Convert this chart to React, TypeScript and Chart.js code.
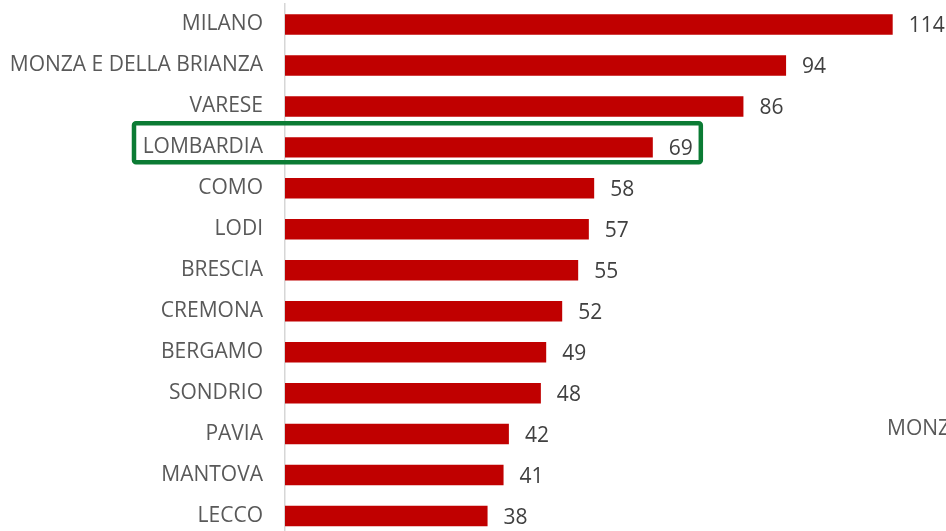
import React, { useEffect, useRef } from "react";
import { Chart, registerables } from "chart.js";

Chart.register(...registerables);

const categories = [
  "MILANO",
  "MONZA E DELLA BRIANZA",
  "VARESE",
  "LOMBARDIA",
  "COMO",
  "LODI",
  "BRESCIA",
  "CREMONA",
  "BERGAMO",
  "SONDRIO",
  "PAVIA",
  "MANTOVA",
  "LECCO",
];
const values = [114, 94, 86, 69, 58, 57, 55, 52, 49, 48, 42, 41, 38];
const highlighted = "LOMBARDIA";
const xMax = 124;

const FONT = "'Open Sans', sans-serif";

const valueLabels = {
  id: "valueLabels",
  afterDatasetsDraw(chart: any) {
    const ctx = chart.ctx;
    const meta = chart.getDatasetMeta(0);
    ctx.save();
    ctx.font = `21px ${FONT}`;
    ctx.fillStyle = "#404040";
    ctx.textAlign = "left";
    ctx.textBaseline = "middle";
    meta.data.forEach((bar: any, i: number) => {
      ctx.fillText(String(values[i]), bar.x + 16, bar.y + 2);
    });
    ctx.restore();
  },
};

const highlightBox = {
  id: "highlightBox",
  afterDraw(chart: any) {
    const idx = categories.indexOf(highlighted);
    if (idx < 0) return;
    const ctx = chart.ctx;
    const x = chart.scales.x;
    const y = chart.scales.y;
    const cy = y.getPixelForValue(idx);
    const left = x.getPixelForValue(0) - 151;
    const right = x.getPixelForValue(values[idx]) + 48;
    const top = cy - 24;
    const bottom = cy + 15;
    ctx.save();
    ctx.strokeStyle = "#0b7b34";
    ctx.lineWidth = 4.5;
    ctx.lineJoin = "round";
    ctx.beginPath();
    ctx.roundRect(left, top, right - left, bottom - top, 2);
    ctx.stroke();
    ctx.restore();
  },
};

export default function App() {
  const ref = useRef<HTMLCanvasElement | null>(null);

  useEffect(() => {
    if (!ref.current) return;
    const chart = new Chart(ref.current, {
      type: "bar",
      data: {
        labels: categories,
        datasets: [
          {
            data: values,
            backgroundColor: "#C00000",
            barPercentage: 0.5,
            categoryPercentage: 1,
          },
        ],
      },
      options: {
        indexAxis: "y",
        responsive: false,
        animation: false,
        layout: { padding: { top: 4, bottom: 3.5, left: 0, right: 0 } },
        plugins: {
          legend: { display: false },
          tooltip: { enabled: false },
        },
        scales: {
          x: {
            display: false,
            min: 0,
            max: xMax,
          },
          y: {
            afterFit(scale: any) {
              scale.width = 285;
              scale.paddingTop = 0;
              scale.paddingBottom = 0;
            },
            grid: { display: false, drawTicks: false },
            border: { display: true, color: "#d6d6d6", width: 1.5 },
            ticks: {
              padding: 22,
              color: "#595959",
              font: { family: FONT, size: 21 },
            },
          },
        },
      },
      plugins: [valueLabels, highlightBox],
    });
    return () => chart.destroy();
  }, []);

  return (
    <div
      style={{
        position: "absolute",
        top: 0,
        left: 0,
        width: 946,
        height: 531,
        overflow: "hidden",
        background: "#ffffff",
      }}
    >
      <canvas ref={ref} width={946} height={540} style={{ display: "block" }} />
      <span
        style={{
          position: "absolute",
          left: 887,
          top: 413,
          fontFamily: FONT,
          fontSize: 21,
          color: "#595959",
          whiteSpace: "nowrap",
        }}
      >
        MONZA E DELLA BRIANZA
      </span>
    </div>
  );
}
